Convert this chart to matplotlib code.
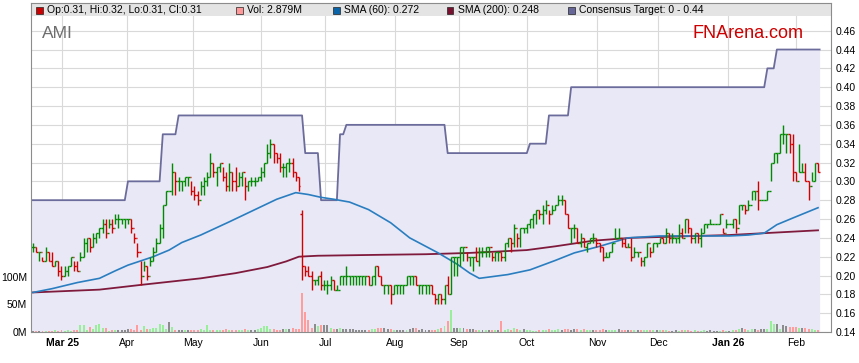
import numpy as np
import matplotlib
matplotlib.use("Agg")
import matplotlib.pyplot as plt
from matplotlib.collections import LineCollection
from matplotlib.patches import Rectangle

plt.rcParams["font.family"] = ["Liberation Sans", "DejaVu Sans"]

# daily bars, Feb 2025 -> Feb 2026 (one entry per trading day)
close = [
    .230, .225, .225, .215, .225, .215, .210, .215, .205, .200,
    .205, .210, .220, .210, .205, .220, .235, .240, .230, .240,
    .245, .250, .255, .245, .255, .250, .260, .260, .260, .260,
    .260, .250, .240, .225, .200, .210, .200, .215, .225, .235,
    .250, .275, .290, .290, .310, .300, .300, .300, .305, .305,
    .290, .285, .280, .295, .300, .305, .320, .310, .315, .320,
    .305, .295, .310, .300, .295, .305, .310, .295, .300, .300,
    .300, .305, .310, .320, .330, .340, .330, .325, .315, .315,
    .320, .320, .310, .305, .295, .210, .205, .200, .195, .195,
    .200, .190, .190, .190, .195, .185, .185, .200, .200, .200,
    .200, .200, .200, .200, .200, .200, .190, .200, .210, .200,
    .190, .190, .190, .180, .190, .190, .190, .190, .200, .200,
    .200, .190, .190, .190, .190, .190, .180, .175, .180, .175,
    .190, .180, .220, .220, .220, .230, .230, .220, .220, .220,
    .215, .225, .225, .230, .230, .220, .225, .225, .220, .235,
    .240, .235, .250, .240, .250, .250, .255, .260, .265, .270,
    .265, .270, .275, .265, .270, .275, .280, .280, .265, .250,
    .250, .250, .235, .240, .230, .235, .240, .240, .235, .230,
    .220, .220, .225, .235, .240, .240, .235, .230, .230, .220,
    .225, .225, .215, .220, .235, .225, .235, .235, .240, .235,
    .245, .240, .240, .240, .245, .240, .260, .250, .240, .245,
    .240, .245, .255, .255, .255, .255, .255, .265, .245, .255,
    .255, .260, .250, .275, .275, .270, .275, .290, .290, .280,
    .280, .280, .290, .320, .330, .330, .350, .350, .350, .340,
    .310, .300, .310, .310, .300, .295, .300, .320, .310,
]
high = [
    .235, .230, .225, .220, .230, .225, .225, .215, .215, .210,
    .210, .210, .220, .215, .215, .225, .240, .240, .240, .245,
    .245, .250, .260, .260, .260, .260, .265, .265, .260, .260,
    .260, .260, .245, .235, .215, .215, .210, .220, .230, .240,
    .255, .275, .290, .290, .320, .310, .305, .300, .305, .305,
    .300, .295, .290, .300, .305, .310, .330, .320, .315, .320,
    .315, .310, .320, .310, .315, .310, .310, .305, .300, .305,
    .305, .305, .315, .320, .340, .345, .340, .330, .330, .320,
    .320, .325, .325, .310, .305, .270, .210, .210, .205, .195,
    .200, .205, .195, .195, .200, .195, .190, .200, .200, .210,
    .200, .200, .200, .200, .200, .200, .200, .200, .210, .210,
    .200, .190, .190, .190, .190, .190, .190, .190, .200, .200,
    .200, .200, .190, .190, .190, .190, .190, .180, .180, .180,
    .190, .200, .220, .220, .220, .230, .230, .225, .220, .220,
    .230, .230, .230, .230, .230, .225, .225, .225, .225, .235,
    .240, .240, .255, .245, .250, .250, .255, .260, .265, .270,
    .270, .275, .280, .270, .275, .275, .285, .285, .280, .265,
    .250, .255, .250, .245, .240, .235, .240, .245, .240, .235,
    .230, .225, .225, .235, .250, .250, .240, .240, .235, .240,
    .230, .225, .220, .220, .235, .230, .235, .235, .240, .240,
    .250, .245, .245, .240, .255, .250, .260, .260, .250, .245,
    .245, .250, .255, .255, .260, .255, .255, .265, .250, .260,
    .255, .260, .260, .275, .275, .275, .280, .290, .290, .300,
    .280, .280, .290, .320, .330, .330, .350, .360, .350, .350,
    .350, .310, .340, .320, .320, .300, .310, .320, .320,
]
low = [
    .225, .225, .215, .215, .215, .215, .210, .210, .200, .195,
    .200, .200, .210, .205, .205, .215, .220, .225, .225, .230,
    .235, .240, .245, .240, .250, .245, .255, .250, .255, .250,
    .255, .245, .235, .220, .190, .205, .195, .210, .215, .225,
    .235, .240, .275, .290, .285, .285, .290, .290, .295, .295,
    .285, .280, .275, .285, .285, .295, .305, .305, .295, .310,
    .300, .290, .290, .290, .290, .295, .295, .280, .290, .295,
    .295, .300, .300, .305, .320, .325, .320, .320, .310, .305,
    .305, .310, .305, .300, .290, .195, .200, .200, .185, .190,
    .190, .185, .185, .180, .185, .185, .185, .190, .190, .190,
    .190, .190, .190, .190, .190, .190, .190, .190, .190, .200,
    .190, .180, .180, .170, .180, .180, .180, .180, .190, .190,
    .190, .190, .180, .180, .180, .180, .180, .170, .170, .170,
    .170, .180, .180, .200, .200, .210, .215, .215, .210, .205,
    .215, .210, .220, .220, .220, .215, .215, .215, .215, .215,
    .230, .225, .230, .230, .230, .245, .245, .250, .250, .255,
    .260, .255, .265, .255, .265, .270, .275, .275, .265, .250,
    .235, .240, .235, .230, .230, .225, .235, .235, .230, .225,
    .215, .220, .220, .225, .240, .240, .230, .230, .230, .215,
    .220, .220, .210, .210, .220, .220, .225, .230, .235, .235,
    .235, .235, .235, .235, .235, .240, .245, .245, .235, .235,
    .235, .230, .245, .250, .255, .255, .255, .255, .245, .250,
    .255, .250, .245, .255, .270, .265, .270, .280, .280, .270,
    .280, .280, .280, .300, .320, .320, .330, .340, .330, .330,
    .300, .300, .310, .310, .300, .280, .300, .300, .310,
]
gap_open = {85: 0.265}

volume_m = [
    2, 2, 2, 1, 2, 2, 2, 3, 2, 4,
    2, 3, 2, 3, 3, 12, 12, 4, 9, 6,
    12, 14, 7, 7, 2, 4, 3, 4, 3, 4,
    5, 6, 4, 13, 4, 11, 5, 5, 7, 8,
    15, 13, 5, 18, 9, 3, 3, 4, 3, 4,
    3, 3, 4, 6, 4, 12, 4, 4, 3, 3,
    4, 5, 4, 3, 4, 3, 4, 6, 4, 3,
    4, 5, 7, 10, 10, 6, 5, 3, 3, 5,
    6, 6, 7, 5, 5, 71, 37, 22, 8, 15,
    11, 12, 13, 12, 8, 6, 6, 7, 5, 6,
    6, 5, 4, 4, 3, 3, 3, 5, 6, 8,
    8, 7, 5, 5, 4, 3, 4, 3, 3, 5,
    7, 8, 4, 5, 3, 3, 4, 4, 5, 8,
    10, 20, 40, 8, 8, 7, 7, 5, 5, 5,
    4, 3, 3, 4, 4, 3, 4, 3, 20, 4,
    5, 3, 8, 5, 4, 6, 4, 3, 2, 2,
    3, 4, 4, 5, 4, 3, 5, 4, 6, 5,
    4, 5, 5, 4, 5, 3, 4, 3, 3, 4,
    5, 4, 3, 3, 4, 5, 4, 3, 3, 4,
    3, 4, 3, 4, 3, 4, 3, 3, 3, 3,
    3, 2, 2, 3, 2, 3, 4, 3, 2, 3,
    2, 2, 3, 2, 3, 2, 2, 1, 3, 2,
    2, 3, 3, 5, 8, 5, 4, 5, 5, 4,
    5, 5, 6, 20, 14, 14, 6, 13, 10, 9,
    9, 9, 8, 8, 7, 6, 5, 3, 4,
]

sma60_day = [0, 6, 14, 21, 26, 30, 35, 38, 43, 47, 53, 62, 67, 72, 77, 83,
             87, 91, 95, 100, 106, 113, 119, 128, 134, 138, 141, 150, 157,
             165, 171, 179, 188, 198, 220, 226, 231, 235, 240, 248]
sma60_val = [.182, .186, .1925, .197, .205, .211, .2166, .220, .227, .235,
             .243, .257, .265, .273, .281, .288, .286, .283, .281, .278,
             .270, .256, .240, .224, .212, .2025, .197, .201, .206, .216,
             .224, .231, .240, .242, .242, .243, .245, .254, .261, .272]
sma200_day = [0, 21, 34, 53, 64, 74, 80, 84, 90, 110, 124, 138, 156, 165,
              177, 189, 220, 248]
sma200_val = [.182, .185, .190, .197, .2025, .209, .215, .220, .221, .222,
              .2226, .224, .227, .231, .237, .240, .243, .248]

target_from = [0, 30, 41, 46, 86, 91, 97, 99, 131, 157, 163, 170, 232, 235]
target_val = [.28, .30, .35, .37, .33, .28, .35, .36, .33, .34, .37, .40, .42, .44]

month_pos = [9.2, 29.7, 50.6, 72.0, 92.3, 114.4, 134.6, 156.1, 178.2, 197.5, 219.6, 241.1]
month_labels = ["Mar 25", "Apr", "May", "Jun", "Jul", "Aug", "Sep", "Oct",
                "Nov", "Dec", "Jan 26", "Feb"]

legend_items = [
    ("#cc0000", "Op:0.31, Hi:0.32, Lo:0.31, Cl:0.31"),
    ("#ff9999", "Vol: 2.879M"),
    ("#0b64a8", "SMA (60): 0.272"),
    ("#7a1030", "SMA (200): 0.248"),
    ("#666699", "Consensus Target: 0 - 0.44"),
]

W, H = 859, 363
PX = 0.32 / 301.3          # price per pixel
VOL = 0.553 * PX           # price units per million shares
Y0, Y1 = 0.14, 0.14 + 329 * PX

n = len(close)
x = np.arange(n)
c = np.array(close)
o = np.r_[c[0], c[:-1]]
for k, v in gap_open.items():
    o[k] = v
prev = np.r_[c[0], c[:-1]]

fig = plt.figure(figsize=(W / 100, H / 100), dpi=100)
ax = fig.add_axes([31 / W, 31 / H, 800 / W, 329 / H])
ax.set_xlim(-0.63, 252.1)
ax.set_ylim(Y0, Y1)

# grid under the target shading
ax.set_axisbelow(True)
ax.grid(True, color="#d9d9d9", lw=0.8, zorder=0)

# consensus target
tgt = np.repeat(target_val, np.diff(np.r_[target_from, n]))
tx = np.r_[-0.63, x, n - 0.5]
ty = np.r_[tgt[0], tgt, tgt[-1]]
ax.fill_between(tx, ty, Y0, color="#e8e8f6", lw=0, zorder=1)
ax.plot(tx, ty, color="#6c6c9c", lw=1.3, zorder=3)

# volume
vcol = np.where(c > prev, "#99ee99", np.where(c < prev, "#ff9d9d", "#8c8c8c"))
vcol[0] = "#8c8c8c"
ax.bar(x, np.array(volume_m) * VOL, bottom=Y0, width=0.62, color=vcol, lw=0, zorder=2)

# moving averages
ax.plot(sma200_day, sma200_val, color="#801a3c", lw=1.3, zorder=3)
ax.plot(sma60_day, sma60_val, color="#2a7ec0", lw=1.2, zorder=3)

# OHLC bars
segs, cols = [], []
for i in range(n):
    col = "#008a00" if c[i] >= o[i] else "#d40000"
    segs += [[(i, low[i]), (i, high[i])],
             [(i - 0.5, o[i]), (i, o[i])],
             [(i, c[i]), (i + 0.5, c[i])]]
    cols += [col] * 3
ax.add_collection(LineCollection(segs, colors=cols, lw=1.0, capstyle="butt", zorder=4))

# axes styling
for s in ax.spines.values():
    s.set_color("#8c8c8c")
    s.set_zorder(8)
ax.yaxis.tick_right()
yt = np.arange(0.14, 0.4601, 0.02)
ax.set_yticks(yt)
ax.set_yticklabels([f"{v:.2f}" for v in yt], fontsize=7.5)
ax.tick_params(axis="y", length=0, pad=3)
ax.set_xticks(month_pos)
ax.set_xticklabels(month_labels, fontsize=7.5)
for lab in ax.get_xticklabels():
    if " " in lab.get_text():
        lab.set_fontweight("bold")
ax.tick_params(axis="x", length=0, pad=4)

sec = ax.secondary_yaxis("left", functions=(lambda p: (p - Y0) / VOL, lambda v: Y0 + v * VOL))
sec.set_yticks([0, 50, 100])
sec.set_yticklabels(["0M", "50M", "100M"], fontsize=7.5)
sec.tick_params(length=0, pad=3)
sec.spines["left"].set_visible(False)

# legend band
ax.add_patch(Rectangle((0, 1 - 13 / 329), 1, 13 / 329, transform=ax.transAxes,
                       facecolor="#e4e4e4", lw=0, zorder=6, clip_on=False))
for xpos, (col, txt) in zip([36, 236, 333, 447, 568], legend_items):
    fig.patches.append(Rectangle((xpos / W, 1 - 13.5 / H), 6.5 / W, 6.5 / H,
                                 transform=fig.transFigure, facecolor=col,
                                 edgecolor="#222222", lw=0.5, zorder=7))
    fig.text((xpos + 11) / W, 1 - 10 / H, txt, fontsize=7.5, va="center", zorder=7)

fig.text(42 / W, 1 - 33 / H, "AMI", fontsize=12.5, color="#6d6d6d", va="center")
fig.text(693 / W, 1 - 33 / H, "FNArena.com", fontsize=13, color="#cc0000", va="center")

fig.savefig("out.png", dpi=100)
